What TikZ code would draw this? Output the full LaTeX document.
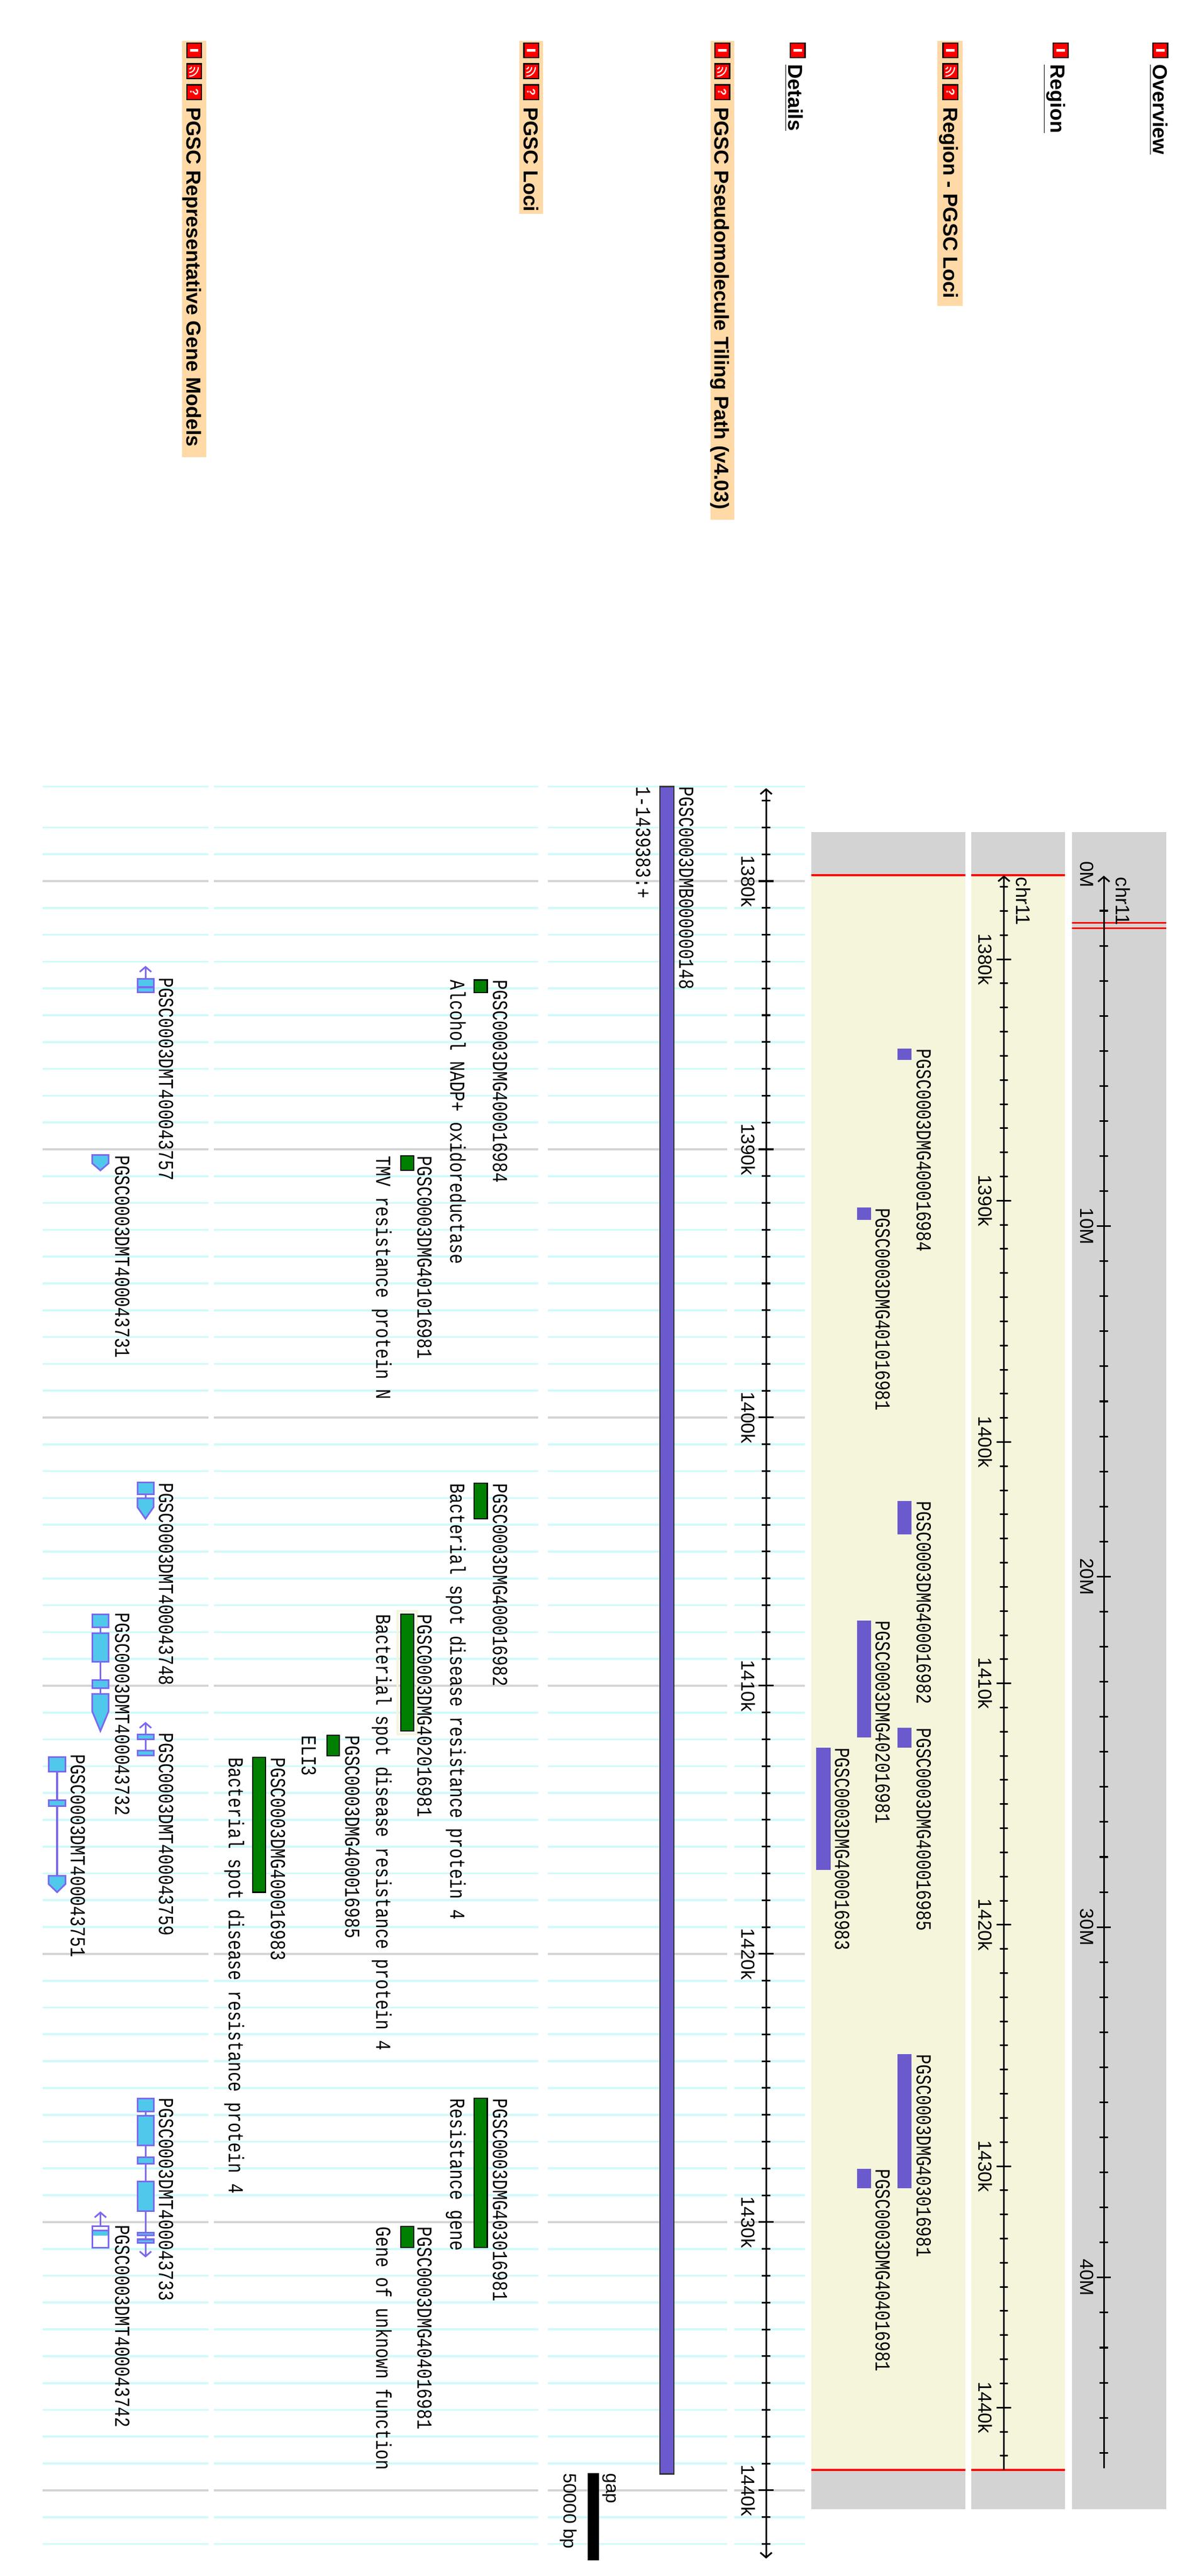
\documentclass[tikz,border=0pt]{standalone}
\usepackage{fontspec}
\usepackage{graphicx}
\setmainfont{Liberation Sans}
\setmonofont{Liberation Mono}
\usetikzlibrary{arrows.meta}
\definecolor{cream}{RGB}{245,245,220}
\definecolor{panelgray}{RGB}{211,211,211}
\definecolor{hdrbg}{RGB}{255,217,166}
\definecolor{gridc}{RGB}{208,250,250}
\definecolor{gridg}{RGB}{212,212,212}
\definecolor{slate}{RGB}{106,90,205}
\definecolor{locigreen}{RGB}{0,128,0}
\definecolor{exonfill}{RGB}{80,200,235}
\definecolor{exonline}{RGB}{123,104,238}
\newcommand\nrw[1]{\scalebox{0.79}[1]{#1}}
\tikzset{
  monotxt/.style={rotate=-90, anchor=base west, inner sep=0pt, font=\fontsize{13}{13}\selectfont\ttfamily},
  rulerlbl/.style={rotate=-90, anchor=base, inner sep=0pt, font=\fontsize{11.5}{11.5}\selectfont},
  hdrtxt/.style={rotate=-90, anchor=base west, inner sep=0pt, font=\fontsize{12.3}{12.3}\selectfont\bfseries},
  gridline/.style={gridc, line width=1.2pt},
  gridmajor/.style={gridg, line width=1.2pt},
  exonst/.style={fill=exonfill, draw=exonline, line width=1pt},
  intr/.style={draw=exonline, line width=1pt},
  locibox/.style={fill=locigreen, draw=black, line width=0.8pt},
  regbox/.style={fill=slate, draw=none},
  barb/.style={-{Straight Barb[length=3pt,width=7pt]}},
  barbboth/.style={{Straight Barb[length=3pt,width=7pt]}-{Straight Barb[length=3pt,width=7pt]}},
  iconbox/.style={fill=red, draw=black, line width=0.8pt},
  iconminus/.pic={\draw[iconbox] (-4.5,-4.5) rectangle (4.5,4.5); \draw[white, line width=1.4pt] (-2.6,0) -- (2.6,0);},
  iconcfg/.pic={\draw[iconbox] (-4.5,-4.5) rectangle (4.5,4.5);
     \draw[white, line width=0.7pt] (-3,3) arc[start angle=90,end angle=0,radius=5.5] (-3,0.8) arc[start angle=90,end angle=0,radius=3.3] (-3,-1.3) arc[start angle=90,end angle=0,radius=1.4];},
  iconhelp/.pic={\draw[iconbox] (-4.5,-4.5) rectangle (4.5,4.5); \node[white, rotate=-90, inner sep=0pt, font=\fontsize{7}{7}\selectfont\bfseries] at (0,0) {?};}
}
\begin{document}
\begin{tikzpicture}[x=1pt,y=-1pt]
\useasboundingbox[fill=white] (0,0) rectangle (727.3,1565.6);

% ---------- headers ----------
\pic at (705,30.6) {iconminus};
\node[hdrtxt] (hov) at (700.5,39) {\underline{Overview}};
\pic at (644.5,30.6) {iconminus};
\node[hdrtxt] (hreg) at (638.5,39) {\underline{Region}};
\fill[hdrbg] (569.6,25) rectangle (585,186);
\pic at (577.5,30.6) {iconminus};
\pic at (577.5,43.3) {iconcfg};
\pic at (577.5,56) {iconhelp};
\node[hdrtxt] (hrl) at (573.4,65) {Region - PGSC Loci};
\pic at (484.7,30.6) {iconminus};
\node[hdrtxt] (hdet) at (479,39) {\underline{Details}};
\fill[hdrbg] (431.6,25) rectangle (446,316);
\pic at (438.8,30.6) {iconminus};
\pic at (438.8,43.3) {iconcfg};
\pic at (438.8,56) {iconhelp};
\node[hdrtxt] (hps) at (434.3,65) {PGSC Pseudomolecule Tiling Path (v4.03)};
\fill[hdrbg] (315.5,25) rectangle (330,130);
\pic at (322.8,30.6) {iconminus};
\pic at (322.8,43.3) {iconcfg};
\pic at (322.8,56) {iconhelp};
\node[hdrtxt] (hloci) at (318.3,65) {PGSC Loci};
\fill[hdrbg] (110.5,25) rectangle (125.5,278);
\pic at (118,30.6) {iconminus};
\pic at (118,43.3) {iconcfg};
\pic at (118,56) {iconhelp};
\node[hdrtxt] (hrgm) at (113.5,65) {PGSC Representative Gene Models};

% ---------- overview panel ----------
\fill[panelgray] (651.4,505.7) rectangle (708.7,1525);
\draw[red, line width=1pt] (651.4,560.8) -- (708.7,560.8) (651.4,564.1) -- (708.7,564.1);
\draw[line width=1pt, barb] (670.7,1500) -- (670.7,532.2);
\foreach \m [evaluate=\m as \yy using 532.2+\m*21.3] in {1,...,45} {\draw[line width=1pt] (668.2,\yy) -- (673.2,\yy);}
\foreach \m [evaluate=\m as \yy using 532.2+\m*21.3] in {10,20,30,40} {\draw[line width=1pt] (666.5,\yy) -- (674.9,\yy);
  \node[rulerlbl] (om\m) at (656.5,\yy) {\m M};}
\node[rulerlbl] (om0) at (656.5,531.5) {0M};
\node[rotate=-90, anchor=base west, inner sep=0pt, font=\fontsize{12}{12}\selectfont] (ochr) at (678.2,533) {chr11};

% ---------- region panel ----------
\fill[panelgray] (590,505.7) rectangle (647,1525);
\fill[cream] (590,532) rectangle (647,1501);
\draw[red, line width=1.3pt] (590,532) -- (647,532) (590,1501) -- (647,1501);
\draw[line width=1pt, barb] (610,1501) -- (610,532);
\foreach \k [evaluate=\k as \yy using 583+(\k-1380)*14.67] in {1377,...,1442} {\draw[line width=1pt] (607.5,\yy) -- (612.5,\yy);}
\foreach \k [evaluate=\k as \yy using 583+(\k-1380)*14.67] in {1380,1390,...,1440} {\draw[line width=1pt] (605.5,\yy) -- (614.5,\yy);
  \node[rulerlbl] (rk\k) at (594.5,\yy) {\k k};}
\node[rotate=-90, anchor=base west, inner sep=0pt, font=\fontsize{12}{12}\selectfont] (rchr) at (617.5,533) {chr11};

% ---------- region - loci panel ----------
\fill[panelgray] (493,505.7) rectangle (586.5,1525);
\fill[cream] (493,532) rectangle (586.5,1501);
\draw[red, line width=1.3pt] (493,532) -- (586.5,532) (493,1501) -- (586.5,1501);
\fill[regbox] (545.2,637.4) rectangle (553.7,644.2);
\node[monotxt] (r1) at (557,637.4) {\nrw{PGSC0003DMG400016984}};
\fill[regbox] (520.7,734) rectangle (529.2,741.5);
\node[monotxt] (r2) at (532,734) {\nrw{PGSC0003DMG401016981}};
\fill[regbox] (545.2,912.3) rectangle (553.7,932.6);
\node[monotxt] (r3) at (557,912.3) {\nrw{PGSC0003DMG400016982}};
\fill[regbox] (520.7,985) rectangle (529.2,1056);
\node[monotxt] (r4) at (532,985) {\nrw{PGSC0003DMG402016981}};
\fill[regbox] (545.2,1050) rectangle (553.7,1062);
\node[monotxt] (r5) at (557,1050) {\nrw{PGSC0003DMG400016985}};
\fill[regbox] (496,1062) rectangle (504.6,1136.5);
\node[monotxt] (r6) at (507.4,1062) {\nrw{PGSC0003DMG400016983}};
\fill[regbox] (545.2,1248.5) rectangle (553.7,1330);
\node[monotxt] (r7) at (557,1248.5) {\nrw{PGSC0003DMG403016981}};
\fill[regbox] (520.7,1318) rectangle (529.2,1330);
\node[monotxt] (r8) at (532,1318) {\nrw{PGSC0003DMG404016981}};

% ---------- details grid ----------
\foreach \k [evaluate=\k as \yy using 535.5+(\k-1380)*16.3] in {1378,...,1442} {
  \foreach \a/\b in {26/126.6,130/327,333/442,446/489} {\draw[gridline] (\a,\yy) -- (\b,\yy);}}
\foreach \a/\b in {26/126.6,130/327,333/442,446/489} {\draw[gridline] (\a,478) -- (\b,478);}
\foreach \k [evaluate=\k as \yy using 535.5+(\k-1380)*16.3] in {1380,1390,...,1440} {
  \foreach \a/\b in {26/126.6,130/327,333/442,446/489} {\draw[gridmajor] (\a,\yy) -- (\b,\yy);}}

% ---------- details ruler ----------
\draw[line width=1pt, barbboth] (465.5,479) -- (465.5,1555);
\foreach \k [evaluate=\k as \yy using 535.5+(\k-1380)*16.3] in {1377,...,1442} {\draw[line width=1pt] (462.8,\yy) -- (468.2,\yy);}
\foreach \k [evaluate=\k as \yy using 535.5+(\k-1380)*16.3] in {1380,1390,...,1440} {\draw[line width=1pt] (461,\yy) -- (470,\yy);
  \node[rulerlbl] (dk\k) at (450.5,\yy) {\k k};}

% ---------- tiling path ----------
\draw[fill=slate, draw=black!80, line width=0.8pt] (401,478) rectangle (409.5,1503.5);
\node[monotxt] (tpn) at (412.7,478) {\nrw{PGSC0003DMB000000148}};
\node[monotxt] (tpr) at (386.5,478) {\nrw{1-1439383:+}};
\fill[black] (357,1503) rectangle (364,1556);
\node[rotate=-90, anchor=base west, inner sep=0pt, font=\fontsize{11}{11}\selectfont] (gapt) at (368.3,1503) {gap};
\node[rotate=-90, anchor=base west, inner sep=0pt, font=\fontsize{11}{11}\selectfont] (gapb) at (342.5,1503) {50000 bp};

% ---------- PGSC loci ----------
\draw[locibox] (288,595.5) rectangle (296,603.3);
\node[monotxt] (l1) at (299.5,595.5) {\nrw{PGSC0003DMG400016984}};
\node[monotxt] (l1d) at (273.6,595.5) {\nrw{Alcohol NADP+ oxidoreductase}};
\draw[locibox] (243.5,702.5) rectangle (251.4,711.3);
\node[monotxt] (l2) at (253.6,702.5) {\nrw{PGSC0003DMG401016981}};
\node[monotxt] (l2d) at (228.6,702.5) {\nrw{TMV resistance protein N}};
\draw[locibox] (288,901.5) rectangle (296,923);
\node[monotxt] (l3) at (299.5,901.5) {\nrw{PGSC0003DMG400016982}};
\node[monotxt] (l3d) at (273.6,901.5) {\nrw{Bacterial spot disease resistance protein 4}};
\draw[cream, line width=1.5pt] (241.5,979) rectangle (253.4,1054);
\draw[locibox] (243.5,981) rectangle (251.4,1052);
\node[monotxt] (l4) at (253.6,981) {\nrw{PGSC0003DMG402016981}};
\node[monotxt] (l4d) at (228.6,981) {\nrw{Bacterial spot disease resistance protein 4}};
\draw[locibox] (198.6,1054.6) rectangle (206.3,1067);
\node[monotxt] (l5) at (209.8,1054.6) {\nrw{PGSC0003DMG400016985}};
\node[monotxt] (l5d) at (183.3,1054.6) {\nrw{ELI3}};
\draw[locibox] (153.5,1068) rectangle (161.4,1150);
\node[monotxt] (l6) at (164.6,1068) {\nrw{PGSC0003DMG400016983}};
\node[monotxt] (l6d) at (139,1068) {\nrw{Bacterial spot disease resistance protein 4}};
\draw[locibox] (288,1275.3) rectangle (296,1366);
\node[monotxt] (l7) at (299.5,1275.3) {\nrw{PGSC0003DMG403016981}};
\node[monotxt] (l7d) at (273.6,1275.3) {\nrw{Resistance gene}};
\draw[locibox] (243.5,1353.2) rectangle (251.4,1366);
\node[monotxt] (l8) at (253.6,1353.2) {\nrw{PGSC0003DMG404016981}};
\node[monotxt] (l8d) at (228.6,1353.2) {\nrw{Gene of unknown function}};

% ---------- gene models ----------
\draw[intr, barb] (88.4,595) -- (88.4,587);
\draw[exonst] (83.5,595) rectangle (93.3,603);
\draw[exonline, line width=1.5pt] (83.5,600) -- (93.3,600);
\node[monotxt] (g1) at (96.6,594) {\nrw{PGSC0003DMT400043757}};
\draw[exonst] (56,702) -- (66,702) -- (66,707) -- (61,711.3) -- (56,707) -- cycle;
\node[monotxt] (g2) at (70,702) {\nrw{PGSC0003DMT400043731}};
\draw[intr] (88.4,908) -- (88.4,910.6);
\draw[exonst] (83.5,901) rectangle (93.3,908);
\draw[exonst] (83.5,910.6) -- (93.3,910.6) -- (93.3,916) -- (88.4,923) -- (83.5,916) -- cycle;
\node[monotxt] (g3) at (96.6,901) {\nrw{PGSC0003DMT400043748}};
\draw[intr] (61,989) -- (61,1029.5);
\draw[exonst] (56,981) rectangle (66,989);
\draw[exonst] (56,992.5) rectangle (66,1010);
\draw[exonst] (56,1021) rectangle (66,1026);
\draw[exonst] (56,1029.5) -- (66,1029.5) -- (66,1040) -- (61,1052) -- (56,1040) -- cycle;
\node[monotxt] (g4) at (70,980) {\nrw{PGSC0003DMT400043732}};
\draw[intr, barb] (88.4,1065) -- (88.4,1046.5);
\draw[exonst] (83.5,1054) rectangle (93.3,1057);
\draw[exonst] (83.5,1064) rectangle (93.3,1067);
\node[monotxt] (g5) at (96.6,1053) {\nrw{PGSC0003DMT400043759}};
\draw[intr] (34.7,1076.6) -- (34.7,1140);
\draw[exonst] (29.5,1068) rectangle (39.8,1076.6);
\draw[exonst] (29.5,1094) rectangle (39.8,1097.6);
\draw[exonst] (29.5,1140) -- (39.8,1140) -- (39.8,1145) -- (34.7,1150) -- (29.5,1145) -- cycle;
\node[monotxt] (g6) at (43,1066) {\nrw{PGSC0003DMT400043751}};
\draw[intr, barb] (88.4,1283.4) -- (88.4,1372);
\draw[exonst] (83.5,1275.5) rectangle (93.3,1283.4);
\draw[exonst] (83.5,1286) rectangle (93.3,1304);
\draw[exonst] (83.5,1311) rectangle (93.3,1315);
\draw[exonst] (83.5,1325.7) rectangle (93.3,1343.7);
\draw[exonst] (83.5,1357) rectangle (93.3,1358.5);
\draw[exonst] (83.5,1361) rectangle (93.3,1363);
\node[monotxt] (g7) at (96.6,1275) {\nrw{PGSC0003DMT400043733}};
\draw[intr, barb] (61,1353) -- (61,1344);
\draw[fill=white, draw=exonline, line width=1pt] (56,1353) rectangle (66,1366);
\fill[exonfill] (56.5,1356) rectangle (65.5,1358.6);
\draw[exonline, line width=0.8pt] (56,1355.6) -- (66,1355.6);
\node[monotxt] (g8) at (70,1352) {\nrw{PGSC0003DMT400043742}};
\end{tikzpicture}
\end{document}
